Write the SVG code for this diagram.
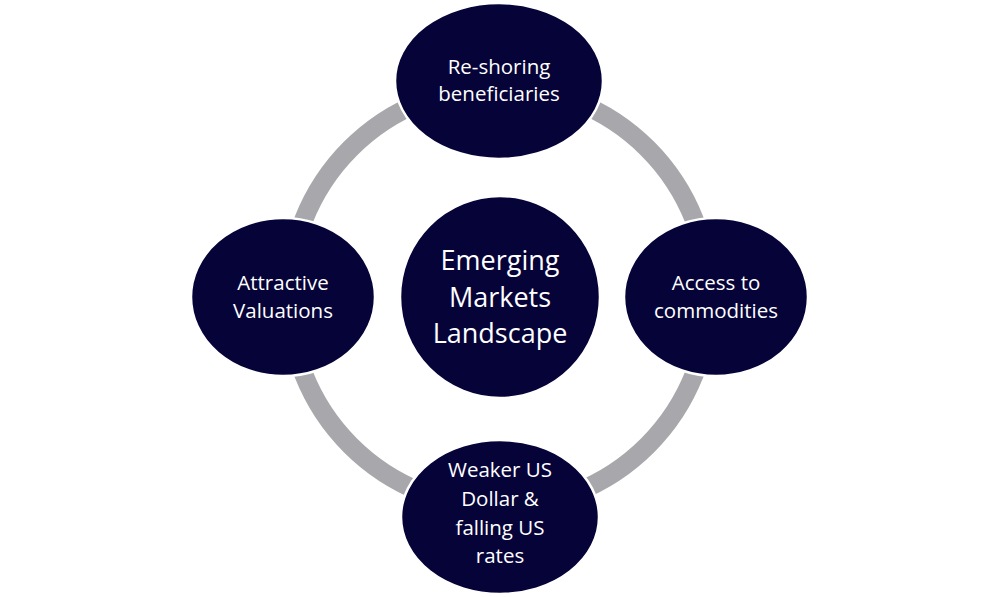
<svg xmlns="http://www.w3.org/2000/svg" width="1000" height="597" viewBox="0 0 1000 597">
<style>
.node{fill:#050338;stroke:#ffffff;stroke-width:2.5}
.t{fill:#ffffff;font-family:"Open Sans","Noto Sans",sans-serif;font-size:20.5px;text-anchor:middle}
.tc{font-size:27px}
.ring{fill:none;stroke:#A8A8AC;stroke-width:19}
</style>
<rect width="1000" height="597" fill="#ffffff"/>
<g id="connectors">
<circle class="ring" cx="499" cy="297" r="210"/>
</g>
<g id="node-top">
<ellipse class="node" cx="499" cy="81" rx="104" ry="78"/>
<text class="t" x="499" y="74">Re-shoring</text>
<text class="t" x="499" y="101">beneficiaries</text>
</g>
<g id="node-left">
<ellipse class="node" cx="283" cy="297" rx="92" ry="79"/>
<text class="t" x="283" y="290">Attractive</text>
<text class="t" x="283" y="318">Valuations</text>
</g>
<g id="node-right">
<ellipse class="node" cx="716" cy="297" rx="92" ry="79"/>
<text class="t" x="716" y="290">Access to</text>
<text class="t" x="716" y="318">commodities</text>
</g>
<g id="node-bottom">
<ellipse class="node" cx="500" cy="517" rx="99" ry="77"/>
<text class="t" x="500" y="477">Weaker US</text>
<text class="t" x="500" y="506">Dollar &amp;</text>
<text class="t" x="500" y="535">falling US</text>
<text class="t" x="500" y="563">rates</text>
</g>
<g id="node-center">
<ellipse class="node" cx="500" cy="297" rx="100" ry="101"/>
<text class="t tc" x="500" y="270">Emerging</text>
<text class="t tc" x="500" y="307">Markets</text>
<text class="t tc" x="500" y="343">Landscape</text>
</g>
</svg>
